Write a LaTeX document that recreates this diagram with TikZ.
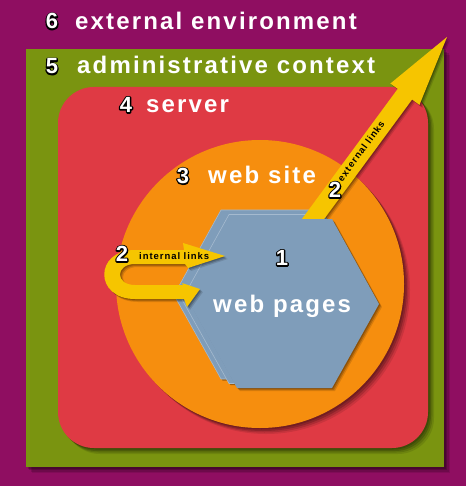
\documentclass[tikz,border=0pt]{standalone}
\usepackage{fontspec}
\setmainfont{Liberation Sans}
\newfontfamily\headfont{Liberation Sans}[LetterSpace=9]
\newfontfamily\linkfont{Liberation Sans}[LetterSpace=10]
\usetikzlibrary{shadows}

\definecolor{envpurple}{HTML}{8F0E61}
\definecolor{admgreen}{HTML}{7A9410}
\definecolor{srvred}{HTML}{DF3A44}
\definecolor{siteorange}{HTML}{F68E0E}
\definecolor{pageblue}{HTML}{7F9DBA}
\definecolor{linkyellow}{HTML}{F6C500}

\tikzset{
  % a soft shadow built from a few faint offset copies
  softshadow/.style={
    drop shadow={shadow xshift=1.5pt,shadow yshift=-1.5pt,opacity=0.18,fill=black},
    drop shadow={shadow xshift=3pt,shadow yshift=-3pt,opacity=0.18,fill=black},
    drop shadow={shadow xshift=4.5pt,shadow yshift=-4.5pt,opacity=0.14,fill=black},
    drop shadow={shadow xshift=6pt,shadow yshift=-6pt,opacity=0.10,fill=black}},
  smallshadow/.style={
    drop shadow={shadow xshift=1pt,shadow yshift=-1pt,opacity=0.2,fill=black},
    drop shadow={shadow xshift=2pt,shadow yshift=-2pt,opacity=0.18,fill=black},
    drop shadow={shadow xshift=3pt,shadow yshift=-3pt,opacity=0.12,fill=black}},
  heading/.style={anchor=base west,inner sep=0pt,text=white,font=\headfont\bfseries\fontsize{24}{24}\selectfont},
  numlabel/.style={anchor=base,inner sep=0pt,text=white,font=\bfseries\fontsize{22}{22}\selectfont},
  linklabel/.style={inner sep=0pt,text=black,font=\linkfont\bfseries\fontsize{9.5}{9.5}\selectfont},
  backpage/.style={fill=pageblue,draw=pageblue!70!white,line width=0.6pt,
    drop shadow={shadow xshift=1.5pt,shadow yshift=-1.5pt,opacity=0.35,fill=black}},
}
% white digits with a black outline: a stroked copy underneath, the filled digit on top
\newcommand\outlined[1]{%
  \makebox[0pt][l]{\special{pdf:literal direct q 1 Tr 2.6 w 0 0 0 RG 1 j}#1\special{pdf:literal direct Q}}#1}

\begin{document}
\begin{tikzpicture}[x=1pt,y=-1pt]
  \useasboundingbox (0,0) rectangle (466,486);

  % 6: external environment
  \fill[envpurple] (0,0) rectangle (466,486);
  % 5: administrative context
  \fill[admgreen,softshadow] (26,49) rectangle (444,467);
  % 4: server
  \fill[srvred,rounded corners=36pt,softshadow] (58,87) rectangle (428,448);
  % 3: web site
  \fill[siteorange,softshadow] (260,284) circle (144);

  % 1: stacked web pages (back sheets)
  \foreach \dx/\dy in {-16/-9,-8/-4.5}{
    \filldraw[backpage,shift={(\dx,\dy)}]
      (237,219) -- (332,219) -- (379,304) -- (332,388) -- (237,388) -- (190,304) -- cycle;
  }

  % 2: external link arrow
  \fill[linkyellow,smallshadow]
    (298.7,223.4) -- (397.7,88.9) -- (390.4,83.5) -- (447,37) -- (419.4,104.9)
    -- (412.1,99.5) -- (313.1,234.0) -- cycle;

  % 1: front web page
  \fill[pageblue,smallshadow]
    (237,219) -- (332,219) -- (379,304) -- (332,388) -- (237,388) -- (190,304) -- cycle;

  % 2: internal link loop
  \fill[linkyellow,smallshadow]
    (225,256) -- (183,243) -- (184,250) -- (135,250)
    .. controls (94,250) and (94,299) .. (135,299) -- (184,299)
    -- (187,307) -- (200,289) -- (182,283) -- (183,285) -- (135,285)
    .. controls (115,285) and (115,264) .. (135,264) -- (185,264)
    -- (188,268) -- cycle;

  % headings
  \node[heading] (envtext)  at (75,29.5)  {external environment};
  \node[heading] (admtext)  at (77,74)    {administrative context};
  \node[heading] (srvtext)  at (146,112.5){server};
  \node[heading] (sitetext) at (208,183)  {web site};
  \node[heading] (pagetext) at (213,312)  {web pages};

  % layer numbers
  \node[numlabel] (n6)  at (52,29)    {\outlined{6}};
  \node[numlabel] (n5)  at (52,74)    {\outlined{5}};
  \node[numlabel] (n4)  at (126,112.5){\outlined{4}};
  \node[numlabel] (n3)  at (183,183.5){\outlined{3}};
  \node[numlabel] (n1)  at (282,265.5){\outlined{1}};
  \node[numlabel] (n2i) at (122,261.5){\outlined{2}};
  \node[numlabel] (n2e) at (335,197.5){\outlined{2}};

  % link labels
  \node[linklabel,anchor=base west] (intlabel) at (139,259) {internal links};
  \node[linklabel,rotate=53.6] (extlabel) at (361,151) {external links};
\end{tikzpicture}
\end{document}
